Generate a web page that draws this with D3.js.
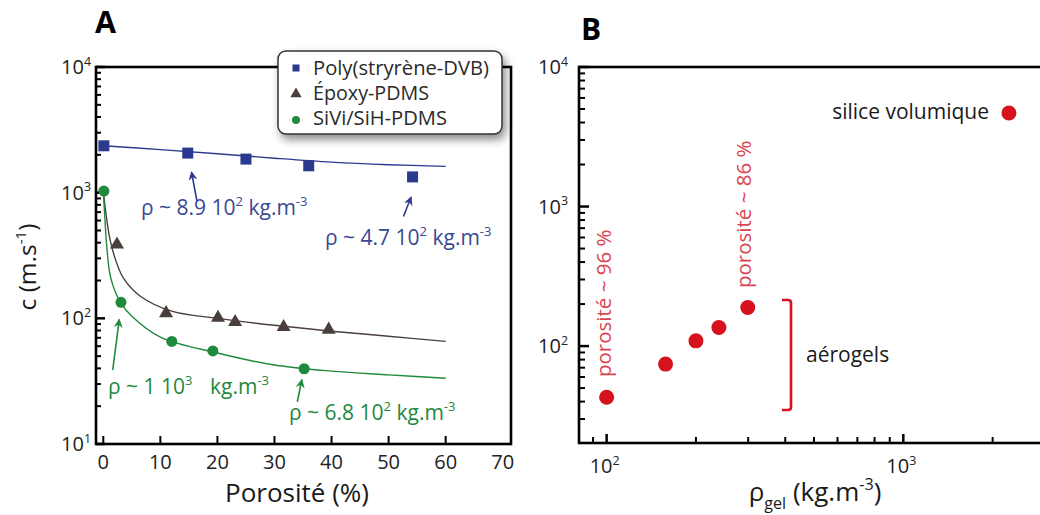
<!DOCTYPE html>
<html>
<head>
<meta charset="utf-8">
<script src="https://cdn.jsdelivr.net/npm/d3@7.9.0/dist/d3.min.js"></script>
<style>
  body { margin: 0; background: #fff; }
  svg { display: block; font-family: "Open Sans", sans-serif; }
</style>
</head>
<body>
<svg id="chart" width="1040" height="515"></svg>
<script>
// ---- Panel A : speed of sound vs porosity ----
const polyPoro = [0.1, 14.8, 25.0, 36.0, 54.2];
const polyC = [2360, 2065, 1850, 1636, 1335];
const epoxyPoro = [2.4, 11.0, 20.1, 23.1, 31.6, 39.5];
const epoxyC = [387, 110, 101, 93.5, 85.3, 81.3];
const siviPoro = [0.1, 3.1, 12.0, 19.2, 35.2];
const siviC = [1030, 134, 65.5, 55, 39.7];

// fitted curves
const polyFitPoro = [0, 10, 20, 30, 40, 50, 60];
const polyFitC = [2360, 2200, 2040, 1880, 1750, 1670, 1620];
const epoxyFitPoro = [0, 0.45, 1.17, 2.07, 3.5, 6.5, 12, 20, 30, 40, 50, 60];
const epoxyFitC = [1030, 690, 425, 300, 210, 150, 114, 100, 88, 79, 72, 65.5];
const siviFitPoro = [0, 0.3, 0.6, 1.3, 3, 5, 10, 20, 30, 40, 50, 60];
const siviFitC = [1030, 600, 376, 210, 134, 104, 71, 53, 42.5, 38, 35.5, 33.4];

const xTicksA = [0, 10, 20, 30, 40, 50, 60, 70];
const yDecadesA = [1, 2, 3, 4];

// ---- Panel B : speed of sound vs gel density ----
const gelRho = [100, 158, 200, 239, 299];
const gelC = [43, 74.3, 109, 136, 189];
const bulkRho = [2270];
const bulkC = [4680];
const yDecadesB = [2, 3, 4];
const xDecadesB = [2, 3];

const blue = '#2b3a8f', blueText = '#3a4894';
const brown = '#4a3f3b';
const green = '#1f8a3c', greenText = '#23883f';
const red = '#d5121e', redText = '#d9444f';

const svg = d3.select('#chart');
const defs = svg.append('defs');

const shadow = defs.append('filter').attr('id', 'shadow')
  .attr('x', '-20%').attr('y', '-20%').attr('width', '150%').attr('height', '170%');
shadow.append('feDropShadow').attr('dx', 3).attr('dy', 5).attr('stdDeviation', 4)
  .attr('flood-color', '#000').attr('flood-opacity', 0.45);

function arrowHead(id, color) {
  defs.append('marker').attr('id', id)
    .attr('viewBox', '0 0 10 10').attr('refX', 9).attr('refY', 5)
    .attr('markerUnits', 'userSpaceOnUse')
    .attr('markerWidth', 11).attr('markerHeight', 9).attr('orient', 'auto')
    .append('path').attr('d', 'M0,0 L10,5 L0,10 L3,5 Z').attr('fill', color);
}
arrowHead('arrowBlue', blue);
arrowHead('arrowGreen', green);

// text with superscripts / subscripts
function richText(g, x, y, parts, size, opts = {}) {
  const t = g.append('text').attr('x', x).attr('y', y)
    .attr('font-size', size).attr('fill', opts.fill || '#1a1a1a')
    .attr('text-anchor', opts.anchor || 'start');
  if (opts.transform) t.attr('transform', opts.transform);
  let shift = 0;
  parts.forEach(p => {
    const [str, kind] = Array.isArray(p) ? p : [p, null];
    let target = kind === 'sup' ? -0.42 * size : kind === 'sub' ? 0.3 * size : 0;
    const s = t.append('tspan').text(str).attr('dy', target - shift);
    if (kind) s.attr('font-size', size * 0.62);
    shift = target;
  });
  return t;
}

// ================= Panel A =================
const xA = d3.scaleLinear().domain([-1.28, 71.45]).range([96, 511]);
const yA = d3.scaleLog().domain([10, 10000]).range([444, 67]);
const gA = svg.append('g');

// ticks
const minorA = [];
yDecadesA.slice(0, -1).forEach(d => { for (let k = 2; k <= 9; k++) minorA.push(k * Math.pow(10, d)); });
gA.selectAll('.ymin').data(minorA).join('line')
  .attr('x1', 96).attr('x2', 101).attr('y1', d => yA(d)).attr('y2', d => yA(d))
  .attr('stroke', '#000').attr('stroke-width', 2);
gA.selectAll('.ymaj').data(yDecadesA).join('line')
  .attr('x1', 96).attr('x2', 105).attr('y1', d => yA(Math.pow(10, d))).attr('y2', d => yA(Math.pow(10, d)))
  .attr('stroke', '#000').attr('stroke-width', 2.5);
gA.selectAll('.xt').data(xTicksA.filter(v => v < 70)).join('line')
  .attr('x1', d => xA(d)).attr('x2', d => xA(d)).attr('y1', 444).attr('y2', 436)
  .attr('stroke', '#000').attr('stroke-width', 2);

yDecadesA.forEach(d => {
  richText(gA, 91, yA(Math.pow(10, d)) + 7, ['10', [String(d), 'sup']], 20, { anchor: 'end', fill: '#222' });
});
xTicksA.forEach(v => {
  gA.append('text').attr('x', xA(v)).attr('y', 469).attr('text-anchor', 'middle')
    .attr('font-size', 20).attr('fill', '#222').text(v);
});

// fitted curves
const lineA = d3.line().x(d => xA(d[0])).y(d => yA(d[1])).curve(d3.curveCatmullRom.alpha(0.5));
[[polyFitPoro, polyFitC, blue], [epoxyFitPoro, epoxyFitC, brown], [siviFitPoro, siviFitC, green]]
  .forEach(([xs, ys, col]) => {
    gA.append('path').datum(d3.zip(xs, ys)).attr('d', lineA)
      .attr('fill', 'none').attr('stroke', col).attr('stroke-width', 1.4);
  });

// markers
gA.selectAll('.sq').data(d3.zip(polyPoro, polyC)).join('rect')
  .attr('x', d => xA(d[0]) - 5.5).attr('y', d => yA(d[1]) - 5.5)
  .attr('width', 11).attr('height', 11).attr('fill', blue);
const tri = d3.symbol().type(d3.symbolTriangle).size(85);
gA.selectAll('.tri').data(d3.zip(epoxyPoro, epoxyC)).join('path')
  .attr('d', tri).attr('transform', d => `translate(${xA(d[0])},${yA(d[1])})`).attr('fill', brown);
gA.selectAll('.ci').data(d3.zip(siviPoro, siviC)).join('circle')
  .attr('cx', d => xA(d[0])).attr('cy', d => yA(d[1])).attr('r', 5.5).attr('fill', green);

// arrows [poro tail, c tail, poro tip, c tip]
const arrowsA = [
  [16.42, 857, 15.46, 1459, 'arrowBlue', blue],
  [52.6, 647, 53.95, 923, 'arrowBlue', blue],
  [1.65, 38.8, 2.8, 98, 'arrowGreen', green],
  [34.0, 21.7, 34.8, 32.5, 'arrowGreen', green]
];
arrowsA.forEach(a => {
  gA.append('line').attr('x1', xA(a[0])).attr('y1', yA(a[1])).attr('x2', xA(a[2])).attr('y2', yA(a[3]))
    .attr('stroke', a[5]).attr('stroke-width', 1.6).attr('marker-end', `url(#${a[4]})`);
});

richText(gA, 141, 215, ['ρ ~ 8.9 10', ['2', 'sup'], ' kg.m', ['-3', 'sup']], 21, { fill: blueText });
richText(gA, 325, 245, ['ρ ~ 4.7 10', ['2', 'sup'], ' kg.m', ['-3', 'sup']], 21, { fill: blueText });
richText(gA, 108, 394, ['ρ ~ 1 10', ['3', 'sup']], 21, { fill: greenText });
richText(gA, 210, 394, ['kg.m', ['-3', 'sup']], 21, { fill: greenText });
richText(gA, 289, 420, ['ρ ~ 6.8 10', ['2', 'sup'], ' kg.m', ['-3', 'sup']], 21, { fill: greenText });

// frame
gA.append('rect').attr('x', 96).attr('y', 67).attr('width', 415).attr('height', 377)
  .attr('fill', 'none').attr('stroke', '#000').attr('stroke-width', 2.6);

// axis titles
gA.append('text').attr('x', 297).attr('y', 502).attr('text-anchor', 'middle')
  .attr('font-size', 26).attr('fill', '#1a1a1a').text('Porosité (%)');
richText(gA, 0, 0, ['c (m.s', ['-1', 'sup'], ')'], 24.5,
  { anchor: 'middle', transform: 'translate(36,267) rotate(-90)' });
gA.append('text').attr('x', 95).attr('y', 33).attr('font-size', 30.5).attr('font-weight', 'bold')
  .attr('fill', '#000').text('A');

// legend
const legendNames = ['Poly(stryrène-DVB)', 'Époxy-PDMS', 'SiVi/SiH-PDMS'];
const leg = gA.append('g');
leg.append('rect').attr('x', 278).attr('y', 51).attr('width', 224).attr('height', 83).attr('rx', 8)
  .attr('fill', '#fff').attr('stroke', '#333').attr('stroke-width', 1.5).attr('filter', 'url(#shadow)');
legendNames.forEach((name, i) => {
  const cy = 68 + i * 25;
  if (i === 0) leg.append('rect').attr('x', 292.5).attr('y', cy - 3.5).attr('width', 7).attr('height', 7).attr('fill', blue);
  if (i === 1) leg.append('path').attr('d', d3.symbol().type(d3.symbolTriangle).size(55))
    .attr('transform', `translate(296,${cy + 1})`).attr('fill', brown);
  if (i === 2) leg.append('circle').attr('cx', 296).attr('cy', cy + 2).attr('r', 4).attr('fill', green);
  leg.append('text').attr('x', 313).attr('y', cy + 7).attr('font-size', 19.5).attr('fill', '#2a2a2a')
    .attr('textLength', [176, 116, 134][i]).attr('lengthAdjust', 'spacingAndGlyphs').text(name);
});

// ================= Panel B =================
const xB = d3.scaleLog().domain([80.7, 2934]).range([579, 1042]);
const yB = d3.scaleLog().domain([20.2, 10000]).range([443, 67]);
const gB = svg.append('g');

const minorBy = [];
[1, 2, 3].forEach(d => { for (let k = 2; k <= 9; k++) { const v = k * Math.pow(10, d); if (v > 20.2 && v < 10000) minorBy.push(v); } });
gB.selectAll('.ymin').data(minorBy).join('line')
  .attr('x1', 579).attr('x2', 585).attr('y1', d => yB(d)).attr('y2', d => yB(d))
  .attr('stroke', '#000').attr('stroke-width', 2);
gB.selectAll('.ymaj').data(yDecadesB).join('line')
  .attr('x1', 579).attr('x2', 589).attr('y1', d => yB(Math.pow(10, d))).attr('y2', d => yB(Math.pow(10, d)))
  .attr('stroke', '#000').attr('stroke-width', 2.5);

const minorBx = [];
[1, 2, 3].forEach(d => { for (let k = 2; k <= 9; k++) { const v = k * Math.pow(10, d); if (v > 80.7 && v < 2934) minorBx.push(v); } });
gB.selectAll('.xmin').data(minorBx).join('line')
  .attr('x1', d => xB(d)).attr('x2', d => xB(d)).attr('y1', 443).attr('y2', 437)
  .attr('stroke', '#000').attr('stroke-width', 2);
gB.selectAll('.xmaj').data(xDecadesB).join('line')
  .attr('x1', d => xB(Math.pow(10, d))).attr('x2', d => xB(Math.pow(10, d))).attr('y1', 443).attr('y2', 434)
  .attr('stroke', '#000').attr('stroke-width', 2.5);

yDecadesB.forEach(d => {
  richText(gB, 568, yB(Math.pow(10, d)) + 7, ['10', [String(d), 'sup']], 20, { anchor: 'end', fill: '#222' });
});
xDecadesB.forEach(d => {
  richText(gB, xB(Math.pow(10, d)) - 2, 473, ['10', [String(d), 'sup']], 20, { anchor: 'middle', fill: '#222' });
});

// points
gB.selectAll('.gel').data(d3.zip(gelRho, gelC)).join('circle')
  .attr('cx', d => xB(d[0])).attr('cy', d => yB(d[1])).attr('r', 7.5).attr('fill', red);
gB.selectAll('.bulk').data(d3.zip(bulkRho, bulkC)).join('circle')
  .attr('cx', d => xB(d[0])).attr('cy', d => yB(d[1])).attr('r', 7.5).attr('fill', red);

// annotations
gB.append('text').attr('x', 989).attr('y', 119).attr('text-anchor', 'end')
  .attr('font-size', 21).attr('fill', '#1a1a1a').text('silice volumique');
gB.append('text').attr('transform', 'translate(611,377) rotate(-90)')
  .attr('font-size', 20.5).attr('fill', redText).text('porosité ~ 96 %');
gB.append('text').attr('transform', 'translate(751,288) rotate(-90)')
  .attr('font-size', 20.5).attr('fill', redText).text('porosité ~ 86 %');
gB.append('path').attr('d', 'M782,300 L788,300 Q791,300 791,303 L791,407 Q791,410 788,410 L782,410')
  .attr('fill', 'none').attr('stroke', red).attr('stroke-width', 2.6);
gB.append('text').attr('x', 806).attr('y', 362).attr('font-size', 21).attr('fill', '#1a1a1a').text('aérogels');

// frame
gB.append('rect').attr('x', 579).attr('y', 67).attr('width', 470).attr('height', 376)
  .attr('fill', 'none').attr('stroke', '#000').attr('stroke-width', 2.6);

richText(gB, 815, 501, ['ρ', ['gel', 'sub'], ' (kg.m', ['-3', 'sup'], ')'], 26, { anchor: 'middle' });
gB.append('text').attr('x', 581).attr('y', 40).attr('font-size', 30).attr('font-weight', 'bold')
  .attr('fill', '#000').text('B');
</script>
</body>
</html>
